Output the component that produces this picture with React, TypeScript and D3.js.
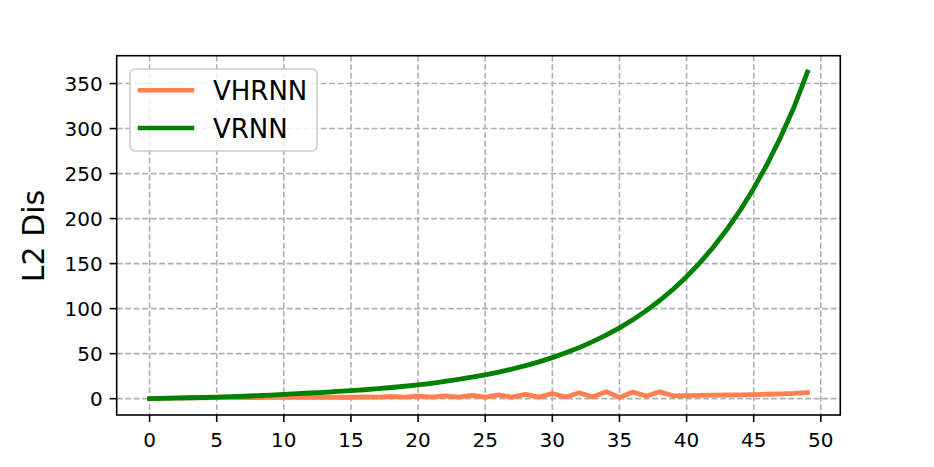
import React from 'react'
import * as d3 from 'd3'

// readings, step 0..49
const steps = d3.range(0, 50)
const vhrnn = [0.2, 0.6, 0.8, 0.9, 1.0, 1.1, 1.2, 1.3, 1.3, 1.4, 1.5, 1.5, 1.6, 1.6, 1.8, 1.6, 2.1, 1.7, 2.4, 1.7, 2.8, 1.7, 3.2, 1.7, 3.6, 1.7, 4.1, 1.7, 4.7, 1.7, 5.7, 1.8, 6.6, 1.9, 7.8, 1.4, 7.3, 2.9, 7.6, 3.2, 3.4, 3.6, 3.9, 4.1, 4.3, 4.6, 4.9, 5.3, 5.8, 6.8]
const vrnn = [0.0, 0.3, 0.6, 1.0, 1.3, 1.7, 2.2, 2.7, 3.3, 4.0, 4.7, 5.5, 6.3, 7.1, 8.0, 8.9, 9.9, 11.1, 12.4, 13.8, 15.4, 17.1, 19.1, 21.3, 23.8, 26.5, 29.5, 32.9, 36.7, 40.9, 45.6, 50.9, 56.7, 63.3, 70.5, 78.6, 87.7, 97.8, 109.0, 121.5, 135.5, 151.1, 168.5, 187.8, 209.4, 233.5, 260.4, 290.3, 323.7, 362.8]
const xTicks = [0, 5, 10, 15, 20, 25, 30, 35, 40, 45, 50]
const yTicks = [0, 50, 100, 150, 200, 250, 300, 350]
const series = [
  { name: 'VHRNN', values: vhrnn, color: '#ff7f50' },
  { name: 'VRNN', values: vrnn, color: '#008000' },
]

const W = 934
const H = 467
const frame = { left: 116.7, right: 840.3, top: 55.7, bottom: 415 }
const font = '"DejaVu Sans", sans-serif'

export default function App() {
  const xPad = (steps[steps.length - 1] - steps[0]) * 0.05
  const x = d3.scaleLinear()
    .domain([steps[0] - xPad, steps[steps.length - 1] + xPad])
    .range([frame.left, frame.right])

  const allVals = vhrnn.concat(vrnn)
  const lo = d3.min(allVals) as number
  const hi = d3.max(allVals) as number
  const yPad = (hi - lo) * 0.05
  const y = d3.scaleLinear()
    .domain([lo - yPad, hi + yPad])
    .range([frame.bottom, frame.top])

  const line = d3.line<number>()
    .x((_, i) => x(steps[i]))
    .y((d) => y(d))

  const grid = { stroke: '#b0b0b0', strokeWidth: 1.6, strokeDasharray: '5.9 2.6' }

  return (
    <div style={{ position: 'fixed', left: 0, top: 0 }}>
      <svg width={W} height={H} style={{ display: 'block', background: '#fff' }}>
        {/* grid */}
        {xTicks.map((t) => (
          <line key={'gx' + t} x1={x(t)} x2={x(t)} y1={frame.top} y2={frame.bottom} {...grid} />
        ))}
        {yTicks.map((t) => (
          <line key={'gy' + t} x1={frame.left} x2={frame.right} y1={y(t)} y2={y(t)} {...grid} />
        ))}

        {/* the two runs */}
        {series.map((s) => (
          <path key={s.name} d={line(s.values) || ''} fill="none" stroke={s.color}
            strokeWidth={4.8} strokeLinejoin="round" strokeLinecap="square" />
        ))}

        {/* frame */}
        <rect x={frame.left} y={frame.top} width={frame.right - frame.left}
          height={frame.bottom - frame.top} fill="none" stroke="#000" strokeWidth={1.6} />

        {/* x ticks */}
        {xTicks.map((t) => (
          <g key={'tx' + t}>
            <line x1={x(t)} x2={x(t)} y1={frame.bottom} y2={frame.bottom + 7} stroke="#000" strokeWidth={1.6} />
            <text x={x(t)} y={446.6} textAnchor="middle" fontFamily={font} fontSize={20} fill="#000">{t}</text>
          </g>
        ))}

        {/* y ticks */}
        {yTicks.map((t) => (
          <g key={'ty' + t}>
            <line x1={frame.left - 7} x2={frame.left} y1={y(t)} y2={y(t)} stroke="#000" strokeWidth={1.6} />
            <text x={frame.left - 14} y={y(t) + 7.3} textAnchor="end" fontFamily={font} fontSize={20} fill="#000">{t}</text>
          </g>
        ))}

        <text transform="translate(43.5, 236) rotate(-90)" textAnchor="middle"
          fontFamily={font} fontSize={30} fill="#000">L2 Dis</text>

        {/* legend */}
        <g>
          <rect x={130} y={69} width={187} height={82} rx={5} ry={5}
            fill="#fff" fillOpacity={0.8} stroke="#cccccc" strokeWidth={1.6} />
          {series.map((s, i) => (
            <g key={'lg' + s.name}>
              <line x1={140} x2={192} y1={90.3 + i * 37.7} y2={90.3 + i * 37.7}
                stroke={s.color} strokeWidth={4.5} strokeLinecap="square" />
              <text x={213} y={100 + i * 37.5} fontFamily={font} fontSize={26} fill="#000">{s.name}</text>
            </g>
          ))}
        </g>
      </svg>
    </div>
  )
}
